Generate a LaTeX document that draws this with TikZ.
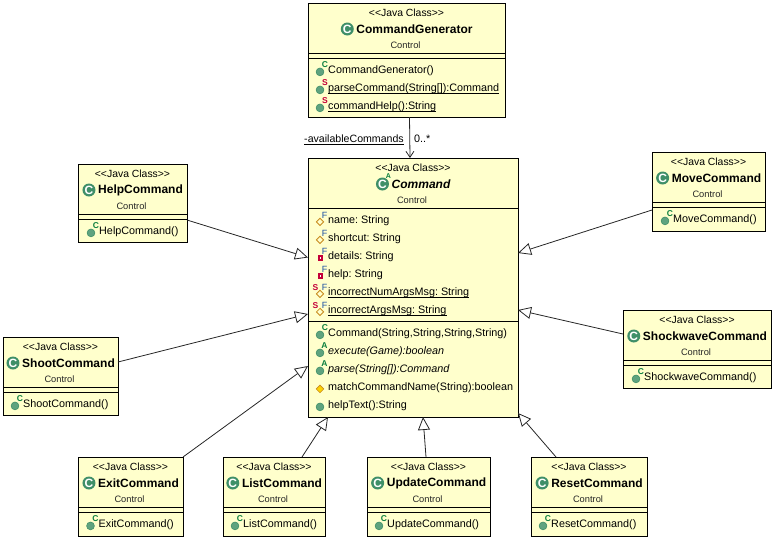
\documentclass[tikz,border=0pt]{standalone}
\usepackage{fontspec}
\setmainfont{Liberation Sans}
\usetikzlibrary{arrows.meta}
\definecolor{boxyellow}{HTML}{FFFFCC}
\definecolor{iconkind}{HTML}{3F8F68}
\definecolor{icongreen}{HTML}{5FA37F}
\definecolor{markgreen}{HTML}{0B7F3F}
\definecolor{markred}{HTML}{C4003A}
\definecolor{markblue}{HTML}{1A4FA0}
\definecolor{fieldorange}{HTML}{C88A1E}
\newcommand{\Stereo}{<{}<Java Class>{}>}

% header of a class box: id, title font, title
\newcommand{\classhead}[3]{
	\node[stereotext] (#1stereo) at ([yshift=-9.5pt]#1.north) {\Stereo};
	\node[titletext, font=#2] (#1title) at ([xshift=8pt,yshift=-26pt]#1.north) {#3};
	\node[classicon] (#1icon) at ([xshift=-9pt]#1title.west) {C};
	\node[packtext] (#1pack) at ([xshift=-1pt,yshift=-42.5pt]#1.north) {Control};
}
\newcommand{\methodicon}[1]{\fill[icongreen, draw=iconkind, line width=0.6pt] ([xshift=-8pt,yshift=-1.5pt]#1.west) circle (3.9pt);}
\newcommand{\fieldicon}[1]{\draw[fieldorange, line width=0.8pt, fill=boxyellow] ([xshift=-8pt,yshift=-1.5pt]#1.west) ++(-3.6pt,0) -- ++(3.6pt,3.6pt) -- ++(3.6pt,-3.6pt) -- ++(-3.6pt,-3.6pt) -- cycle;}
\newcommand{\privicon}[1]{\fill[markred] ([xshift=-10.5pt,yshift=-4.5pt]#1.west) rectangle ++(5.5pt,5.5pt); \fill[white] ([xshift=-8.5pt,yshift=-2.5pt]#1.west) rectangle ++(1.6pt,1.6pt);}
\newcommand{\defaulticon}[1]{\draw[fieldorange, line width=0.6pt, fill=yellow!70!orange] ([xshift=-8pt,yshift=-1.5pt]#1.west) ++(-3.8pt,0) -- ++(3.8pt,3.8pt) -- ++(3.8pt,-3.8pt) -- ++(-3.8pt,-3.8pt) -- cycle;}
\newcommand{\underrule}[1]{\draw[line width=0.8pt] (#1.south west) -- (#1.south east);}

\begin{document}
\frenchspacing
\begin{tikzpicture}[x=1pt, y=-1pt,
		classbox/.style={draw, fill=boxyellow, line width=1pt, inner sep=0pt, outer sep=0pt},
		stereotext/.style={inner sep=0pt, font=\fontsize{10.4}{12}\selectfont},
		titletext/.style={inner sep=0pt},
		packtext/.style={inner sep=0pt, text=black!85, font=\fontsize{9.3}{11}\selectfont},
		classicon/.style={circle, fill=iconkind, text=white, inner sep=0pt, minimum size=13pt, font=\fontsize{12}{12}\bfseries\selectfont},
		member/.style={anchor=west, inner sep=0pt, text height=8pt, text depth=2.2pt, font=\fontsize{10.8}{12}\selectfont},
		markC/.style={inner sep=0pt, text=markgreen, font=\fontsize{8.5}{9}\bfseries\selectfont},
		markS/.style={inner sep=0pt, text=markred, font=\fontsize{8.5}{9}\bfseries\selectfont},
		markF/.style={inner sep=0pt, text=markblue, font=\fontsize{9}{9}\selectfont},
		inherit/.style={-{Triangle[open, length=13pt, width=12pt, fill=none]}, line width=0.8pt, draw=black!85},
		assoc/.style={-{Straight Barb[length=6pt, width=8pt]}, line width=0.8pt, draw=black!85}
	]
	\useasboundingbox (0,0) rectangle (775,539);
	\def\titlefont{\fontsize{12}{14}\bfseries\selectfont}
	\def\italfont{\fontsize{12}{14}\bfseries\itshape\selectfont}

	% boxes
	\node[classbox, minimum width=197pt, minimum height=114pt] (generator) at (406.5,60) {};
	\node[classbox, minimum width=210pt, minimum height=259pt] (command) at (413,287.5) {};
	\node[classbox, minimum width=109pt, minimum height=78pt] (help) at (132.5,203) {};
	\node[classbox, minimum width=113pt, minimum height=79pt] (move) at (708.5,191.5) {};
	\node[classbox, minimum width=115pt, minimum height=78pt] (shoot) at (60.5,376) {};
	\node[classbox, minimum width=148pt, minimum height=78pt] (shockwave) at (697,349) {};
	\node[classbox, minimum width=105pt, minimum height=79pt] (exit) at (130.5,496.5) {};
	\node[classbox, minimum width=102pt, minimum height=79pt] (list) at (274,496.5) {};
	\node[classbox, minimum width=123pt, minimum height=79pt] (update) at (428.5,496.5) {};
	\node[classbox, minimum width=116pt, minimum height=79pt] (reset) at (589,496.5) {};

	% compartments
	\draw[line width=1pt] (generator.west |- 0,53) -- (generator.east |- 0,53);
	\draw[line width=1pt] (generator.west |- 0,58) -- (generator.east |- 0,58);
	\draw[line width=1pt] (command.west |- 0,208) -- (command.east |- 0,208);
	\draw[line width=1pt] (command.west |- 0,321) -- (command.east |- 0,321);
	\draw[line width=1pt] (help.west |- 0,214) -- (help.east |- 0,214);
	\draw[line width=1pt] (help.west |- 0,219) -- (help.east |- 0,219);
	\draw[line width=1pt] (move.west |- 0,202) -- (move.east |- 0,202);
	\draw[line width=1pt] (move.west |- 0,207) -- (move.east |- 0,207);
	\draw[line width=1pt] (shoot.west |- 0,387) -- (shoot.east |- 0,387);
	\draw[line width=1pt] (shoot.west |- 0,392) -- (shoot.east |- 0,392);
	\draw[line width=1pt] (shockwave.west |- 0,360) -- (shockwave.east |- 0,360);
	\draw[line width=1pt] (shockwave.west |- 0,365) -- (shockwave.east |- 0,365);
	\draw[line width=1pt] (exit.west |- 0,507) -- (exit.east |- 0,507);
	\draw[line width=1pt] (exit.west |- 0,512) -- (exit.east |- 0,512);
	\draw[line width=1pt] (list.west |- 0,507) -- (list.east |- 0,507);
	\draw[line width=1pt] (list.west |- 0,512) -- (list.east |- 0,512);
	\draw[line width=1pt] (update.west |- 0,507) -- (update.east |- 0,507);
	\draw[line width=1pt] (update.west |- 0,512) -- (update.east |- 0,512);
	\draw[line width=1pt] (reset.west |- 0,507) -- (reset.east |- 0,507);
	\draw[line width=1pt] (reset.west |- 0,512) -- (reset.east |- 0,512);

	% headers
	\classhead{generator}{\titlefont}{CommandGenerator}
	\classhead{command}{\italfont}{Command}
	\classhead{help}{\titlefont}{HelpCommand}
	\classhead{move}{\titlefont}{MoveCommand}
	\classhead{shoot}{\titlefont}{ShootCommand}
	\classhead{shockwave}{\titlefont}{ShockwaveCommand}
	\classhead{exit}{\titlefont}{ExitCommand}
	\classhead{list}{\titlefont}{ListCommand}
	\classhead{update}{\titlefont}{UpdateCommand}
	\classhead{reset}{\titlefont}{ResetCommand}
	\node[markC, font=\fontsize{7}{7}\bfseries\selectfont] (commandiconA) at ([xshift=6pt,yshift=8pt]commandicon.center) {A};

	% generator members
	\node[member] (genctor) at (328,70.4) {CommandGenerator()};
	\node[member] (genparse) at (328,88.4) {parseCommand(String[]):Command};
	\node[member] (genhelp) at (328,106.4) {commandHelp():String};
	\methodicon{genctor} \methodicon{genparse} \methodicon{genhelp}
	\underrule{genparse} \underrule{genhelp}
	\node[markC] (genctorC) at ([xshift=-3pt,yshift=5.5pt]genctor.west) {C};
	\node[markS] (genparseS) at ([xshift=-3pt,yshift=5.5pt]genparse.west) {S};
	\node[markS] (genhelpS) at ([xshift=-3pt,yshift=5.5pt]genhelp.west) {S};

	% command fields
	\node[member] (fname) at (328,220.4) {name: String};
	\node[member] (fshort) at (328,238.4) {shortcut: String};
	\node[member] (fdetails) at (328,256.4) {details: String};
	\node[member] (fhelp) at (328,274.4) {help: String};
	\node[member] (fnum) at (328,292.4) {incorrectNumArgsMsg: String};
	\node[member] (fargs) at (328,310.4) {incorrectArgsMsg: String};
	\fieldicon{fname} \fieldicon{fshort} \privicon{fdetails} \privicon{fhelp} \fieldicon{fnum} \fieldicon{fargs}
	\underrule{fnum} \underrule{fargs}
	\node[markF] (fnameF) at ([xshift=-3.5pt,yshift=5pt]fname.west) {F};
	\node[markF] (fshortF) at ([xshift=-3.5pt,yshift=5pt]fshort.west) {F};
	\node[markF] (fdetailsF) at ([xshift=-3.5pt,yshift=5pt]fdetails.west) {F};
	\node[markF] (fhelpF) at ([xshift=-3.5pt,yshift=5pt]fhelp.west) {F};
	\node[markF] (fnumF) at ([xshift=-3.5pt,yshift=5pt]fnum.west) {F};
	\node[markF] (fargsF) at ([xshift=-3.5pt,yshift=5pt]fargs.west) {F};
	\node[markS] (fnumS) at ([xshift=-12.5pt,yshift=5pt]fnum.west) {S};
	\node[markS] (fargsS) at ([xshift=-12.5pt,yshift=5pt]fargs.west) {S};

	% command methods
	\node[member] (mctor) at (328,333.4) {Command(String,String,String,String)};
	\node[member] (mexec) at (328,351.4) {\itshape execute(Game):boolean};
	\node[member] (mparse) at (328,369.4) {\itshape parse(String[]):Command};
	\node[member] (mmatch) at (328,387.4) {matchCommandName(String):boolean};
	\node[member] (mtext) at (328,405.4) {helpText():String};
	\methodicon{mctor} \methodicon{mexec} \methodicon{mparse} \defaulticon{mmatch} \methodicon{mtext}
	\node[markC] (mctorC) at ([xshift=-3pt,yshift=5.5pt]mctor.west) {C};
	\node[markC] (mexecA) at ([xshift=-3.5pt,yshift=5.5pt]mexec.west) {A};
	\node[markC] (mparseA) at ([xshift=-3.5pt,yshift=5.5pt]mparse.west) {A};

	% constructors of the subclasses
	\node[member] (helpctor) at (99,231.4) {HelpCommand()};
	\node[member] (movector) at (673,219.4) {MoveCommand()};
	\node[member] (shootctor) at (23,404.4) {ShootCommand()};
	\node[member] (shockctor) at (644,377.4) {ShockwaveCommand()};
	\node[member] (exitctor) at (98.5,524.4) {ExitCommand()};
	\node[member] (listctor) at (243,524.4) {ListCommand()};
	\node[member] (updatector) at (387,524.4) {UpdateCommand()};
	\node[member] (resetctor) at (551,524.4) {ResetCommand()};
	\methodicon{helpctor} \methodicon{movector} \methodicon{shootctor} \methodicon{shockctor}
	\methodicon{exitctor} \methodicon{listctor} \methodicon{updatector} \methodicon{resetctor}
	\node[markC] (helpC) at ([xshift=-3pt,yshift=5.5pt]helpctor.west) {C};
	\node[markC] (moveC) at ([xshift=-3pt,yshift=5.5pt]movector.west) {C};
	\node[markC] (shootC) at ([xshift=-3pt,yshift=5.5pt]shootctor.west) {C};
	\node[markC] (shockC) at ([xshift=-3pt,yshift=5.5pt]shockctor.west) {C};
	\node[markC] (exitC) at ([xshift=-3pt,yshift=5.5pt]exitctor.west) {C};
	\node[markC] (listC) at ([xshift=-3pt,yshift=5.5pt]listctor.west) {C};
	\node[markC] (updateC) at ([xshift=-3pt,yshift=5.5pt]updatector.west) {C};
	\node[markC] (resetC) at ([xshift=-3pt,yshift=5.5pt]resetctor.west) {C};

	% connectors
	\draw[assoc] ([xshift=3pt]generator.south) -- ([xshift=-3pt]command.north);
	\node[member, anchor=east, font=\fontsize{10.6}{12}\selectfont] (rolename) at (404,139.5) {-availableCommands};
	\underrule{rolename}
	\node[member] (multiplicity) at (414,139.5) {0..*};
	\draw[inherit] ([yshift=-17pt]help.east) -- ([yshift=30pt]command.west);
	\draw[inherit] ([yshift=-18.5pt]move.west) -- ([yshift=34.5pt]command.east);
	\draw[inherit] ([yshift=14pt]shoot.east) -- ([yshift=-26.5pt]command.west);
	\draw[inherit] ([yshift=15pt]shockwave.west) -- ([yshift=-22.5pt]command.east);
	\draw[inherit] (exit.north east) -- ([yshift=-78.5pt]command.west);
	\draw[inherit] ([xshift=28pt]list.north) -- ([xshift=-85pt]command.south);
	\draw[inherit] ([xshift=-2.5pt]update.north) -- ([xshift=10pt]command.south);
	\draw[inherit] ([xshift=-33pt]reset.north) -- ([yshift=4pt]command.south east);
\end{tikzpicture}
\end{document}
